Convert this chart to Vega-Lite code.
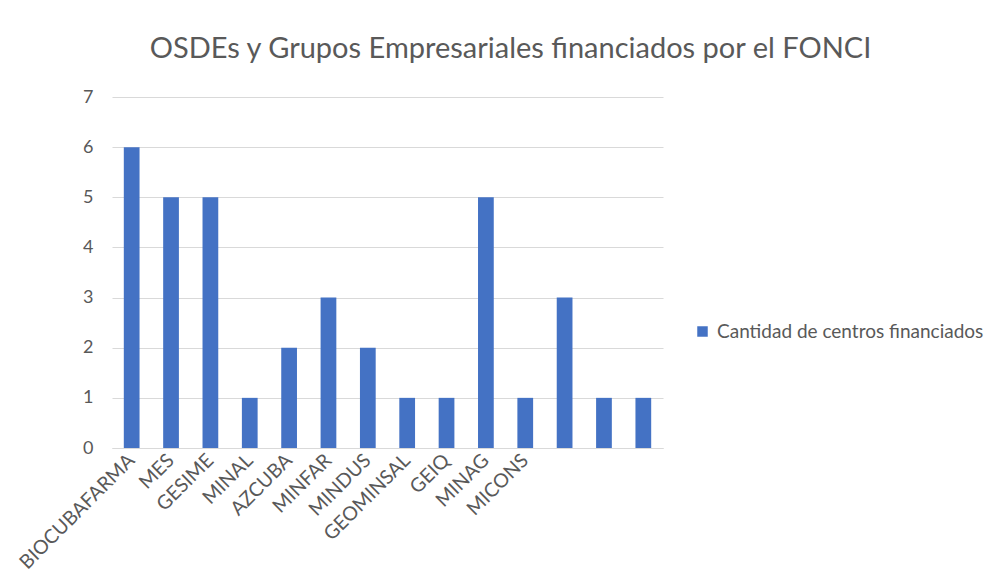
{
  "$schema": "https://vega.github.io/schema/vega-lite/v6.json",
  "autosize": "none",
  "width": 551,
  "height": 351,
  "padding": {"left": 112, "top": 97, "right": 337, "bottom": 138},
  "background": "white",
  "title": {
    "text": "OSDEs y Grupos Empresariales financiados por el FONCI",
    "font": "Lato",
    "fontSize": 29,
    "fontWeight": "normal",
    "color": "#595959",
    "anchor": "middle",
    "dx": 123,
    "offset": 24
  },
  "data": {
    "values": [
      {"osde": "BIOCUBAFARMA", "valor": 6, "serie": "Cantidad de centros financiados"},
      {"osde": "MES", "valor": 5, "serie": "Cantidad de centros financiados"},
      {"osde": "GESIME", "valor": 5, "serie": "Cantidad de centros financiados"},
      {"osde": "MINAL", "valor": 1, "serie": "Cantidad de centros financiados"},
      {"osde": "AZCUBA", "valor": 2, "serie": "Cantidad de centros financiados"},
      {"osde": "MINFAR", "valor": 3, "serie": "Cantidad de centros financiados"},
      {"osde": "MINDUS", "valor": 2, "serie": "Cantidad de centros financiados"},
      {"osde": "GEOMINSAL", "valor": 1, "serie": "Cantidad de centros financiados"},
      {"osde": "GEIQ", "valor": 1, "serie": "Cantidad de centros financiados"},
      {"osde": "MINAG", "valor": 5, "serie": "Cantidad de centros financiados"},
      {"osde": "MICONS", "valor": 1, "serie": "Cantidad de centros financiados"},
      {"osde": " ", "valor": 3, "serie": "Cantidad de centros financiados"},
      {"osde": "  ", "valor": 1, "serie": "Cantidad de centros financiados"},
      {"osde": "   ", "valor": 1, "serie": "Cantidad de centros financiados"}
    ]
  },
  "mark": {"type": "bar"},
  "encoding": {
    "x": {
      "field": "osde",
      "type": "nominal",
      "sort": null,
      "scale": {"paddingInner": 0.6, "paddingOuter": 0.3},
      "axis": {
        "title": null,
        "labelAngle": -45,
        "labelAlign": "right",
        "labelBaseline": "middle",
        "labelFont": "Lato",
        "labelFontSize": 19.5,
        "labelColor": "#595959",
        "labelPadding": 9,
        "labelOverlap": false,
        "ticks": false,
        "domainColor": "#d9d9d9",
        "grid": false
      }
    },
    "y": {
      "field": "valor",
      "type": "quantitative",
      "scale": {"domain": [0, 7]},
      "axis": {
        "title": null,
        "values": [0, 1, 2, 3, 4, 5, 6, 7],
        "domain": false,
        "ticks": false,
        "labelFont": "Lato",
        "labelFontSize": 18,
        "labelColor": "#595959",
        "labelPadding": 19,
        "gridColor": "#d9d9d9"
      }
    },
    "color": {
      "field": "serie",
      "type": "nominal",
      "scale": {"range": ["#4472C4"]},
      "legend": {
        "title": null,
        "orient": "none",
        "legendX": 581,
        "legendY": 225,
        "symbolType": "square",
        "symbolSize": 110,
        "symbolStrokeWidth": 0,
        "labelFont": "Lato",
        "labelFontSize": 19,
        "labelLimit": 400,
        "labelOffset": 5,
        "labelColor": "#595959"
      }
    }
  },
  "config": {"view": {"stroke": null}}
}
